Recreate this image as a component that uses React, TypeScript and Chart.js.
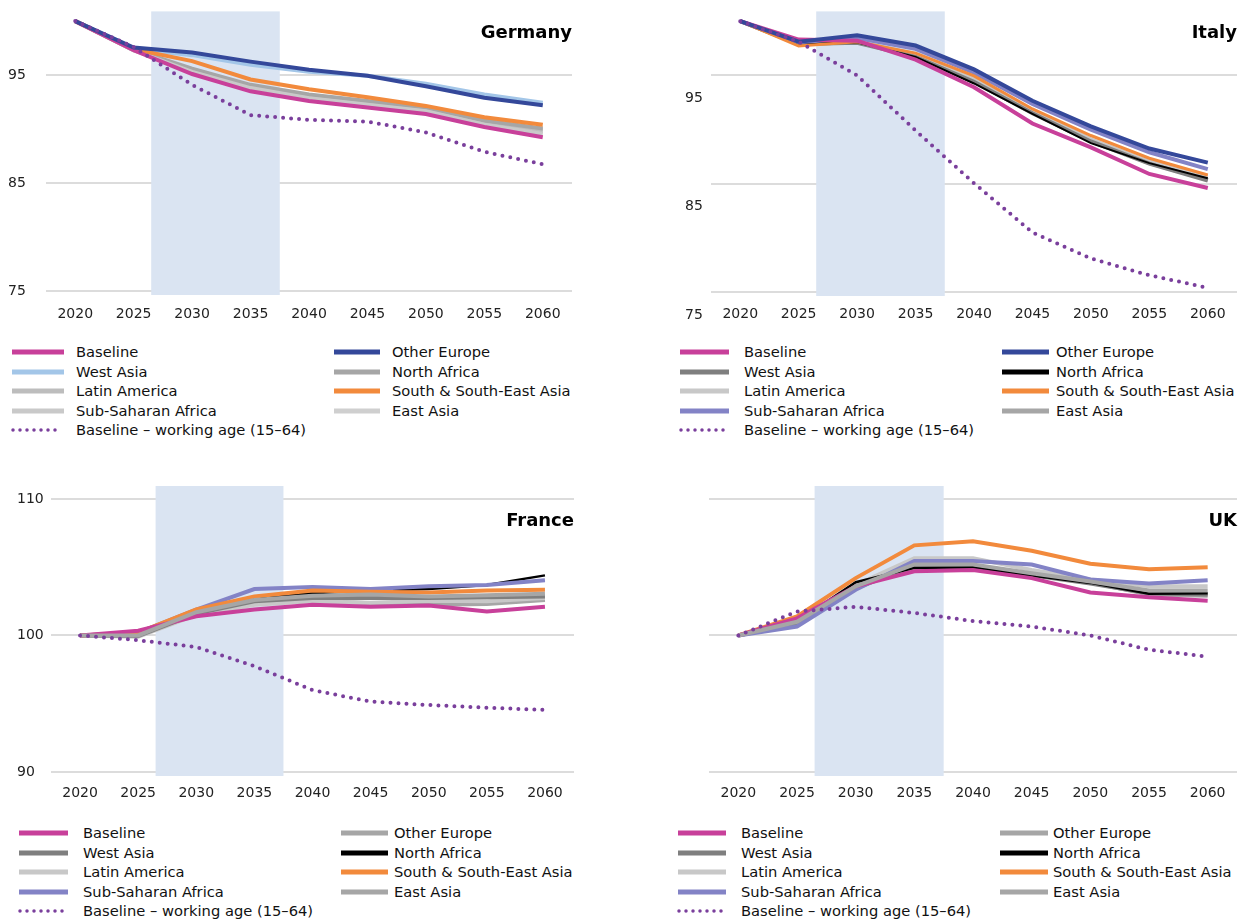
import { useEffect, useRef } from "react";
import { Chart, registerables } from "chart.js";

Chart.register(...registerables);

const years = ["2020", "2025", "2030", "2035", "2040", "2045", "2050", "2055", "2060"];

// Germany
const deBaseline = [100, 97.3, 95.1, 93.5, 92.6, 92.0, 91.4, 90.2, 89.25];
const deOtherEurope = [100, 97.55, 97.1, 96.25, 95.5, 94.95, 93.97, 92.9, 92.2];
const deWestAsia = [100, 97.45, 96.85, 95.95, 95.3, 94.95, 94.2, 93.2, 92.45];
const deNorthAfrica = [100, 97.35, 95.6, 94.1, 93.2, 92.6, 92.0, 90.8, 90.05];
const deLatinAmerica = [100, 97.3, 95.5, 94.0, 93.05, 92.45, 91.85, 90.6, 89.9];
const deSouthAsia = [100, 97.4, 96.3, 94.6, 93.7, 92.95, 92.15, 91.1, 90.4];
const deSubSaharan = [100, 97.3, 95.3, 93.8, 92.85, 92.25, 91.65, 90.4, 89.55];
const deEastAsia = [100, 97.35, 95.45, 93.95, 93.0, 92.4, 91.8, 90.55, 89.85];
const deWorking = [100, 97.6, 94.1, 91.3, 90.85, 90.7, 89.7, 87.9, 86.75];

// Italy
const itBaseline = [100, 98.3, 98.2, 96.45, 93.9, 90.55, 88.35, 85.9, 84.6];
const itOtherEurope = [100, 98.1, 98.7, 97.75, 95.55, 92.65, 90.3, 88.25, 86.95];
const itWestAsia = [100, 97.9, 98.0, 96.7, 94.4, 91.5, 88.9, 86.85, 85.3];
const itNorthAfrica = [100, 97.95, 98.05, 96.7, 94.25, 91.45, 88.75, 86.9, 85.5];
const itLatinAmerica = [100, 97.95, 98.1, 96.95, 94.7, 91.7, 89.1, 87.05, 85.65];
const itSouthAsia = [100, 97.7, 98.1, 97.05, 94.95, 91.9, 89.45, 87.35, 85.8];
const itSubSaharan = [100, 98.05, 98.45, 97.45, 95.25, 92.35, 90.0, 87.9, 86.35];
const itEastAsia = [100, 97.9, 98.05, 96.9, 94.65, 91.6, 89.0, 86.9, 85.35];
const itWorking = [100, 98.1, 95.0, 89.9, 85.05, 80.5, 78.1, 76.55, 75.4];

// France
const frBaseline = [100, 100.35, 101.4, 101.9, 102.25, 102.1, 102.2, 101.75, 102.1];
const frOtherEurope = [100, 100.0, 101.7, 102.6, 102.9, 103.0, 102.85, 102.95, 103.05];
const frWestAsia = [100, 99.95, 101.6, 102.5, 102.75, 102.75, 102.75, 102.8, 102.85];
const frNorthAfrica = [100, 100.1, 101.9, 102.75, 103.1, 103.3, 103.4, 103.7, 104.4];
const frLatinAmerica = [100, 99.9, 101.5, 102.25, 102.5, 102.4, 102.55, 102.5, 102.75];
const frSouthAsia = [100, 100.2, 101.9, 102.85, 103.3, 103.2, 103.15, 103.3, 103.35];
const frSubSaharan = [100, 100.2, 101.9, 103.4, 103.55, 103.4, 103.6, 103.7, 104.05];
const frEastAsia = [100, 99.95, 101.55, 102.35, 102.55, 102.35, 102.25, 102.3, 102.6];
const frWorking = [100, 99.65, 99.15, 97.75, 96.0, 95.15, 94.9, 94.7, 94.55];

// UK
const ukBaseline = [100, 101.25, 103.6, 104.7, 104.8, 104.2, 103.15, 102.8, 102.55];
const ukOtherEurope = [100, 101.0, 103.6, 105.2, 105.2, 104.55, 103.95, 103.3, 103.3];
const ukWestAsia = [100, 100.9, 103.5, 105.0, 105.0, 104.4, 103.8, 103.1, 103.0];
const ukNorthAfrica = [100, 101.0, 103.9, 104.95, 105.0, 104.4, 103.85, 103.05, 103.1];
const ukLatinAmerica = [100, 101.1, 103.7, 105.65, 105.65, 104.8, 104.1, 103.6, 103.6];
const ukSouthAsia = [100, 101.4, 104.2, 106.6, 106.9, 106.2, 105.25, 104.85, 105.0];
const ukSubSaharan = [100, 100.65, 103.35, 105.45, 105.45, 105.2, 104.1, 103.8, 104.05];
const ukEastAsia = [100, 100.95, 103.45, 105.1, 105.1, 104.5, 103.9, 103.0, 102.9];
const ukWorking = [100, 101.75, 102.1, 101.65, 101.05, 100.65, 100.0, 98.95, 98.45];

const seriesLabels = ["Baseline", "West Asia", "Latin America", "Sub-Saharan Africa", "Other Europe", "North Africa", "South & South-East Asia", "East Asia"];
const workingLabel = "Baseline – working age (15–64)";

const MAGENTA = "#c8409a";
const NAVY = "#34489a";
const ORANGE = "#f28a3c";
const PURPLE = "#8383c6";
const DOTS = "#7a3f9c";
const FONT = "'DejaVu Sans', Verdana, sans-serif";

type Series = { label: string; data: number[]; color: string; width?: number };

interface PanelProps {
  title: string;
  left: number;
  top: number;
  width: number;
  height: number;
  padLeft: number;
  yWidth: number;
  padTop: number;
  padRight: number;
  plotHeight: number;
  padTitle: number;
  min: number;
  max: number;
  ticks: number[];
  showLabels: boolean;
  labelOffset: number;
  tickPad: number;
  series: Series[];
  working: number[];
  legend: { x1: number; t1: number; x2: number; t2: number; y: number; w1: number; w2: number };
}

function Panel(p: PanelProps) {
  const ref = useRef<HTMLCanvasElement>(null);
  const inst = useRef<Chart | null>(null);

  useEffect(() => {
    if (!ref.current) return;
    if (inst.current) inst.current.destroy();

    const band = {
      id: "band",
      beforeDatasetsDraw(chart: any) {
        const { ctx, chartArea, scales } = chart;
        const x0 = scales.x.getPixelForValue(1.3);
        const x1 = scales.x.getPixelForValue(3.5);
        ctx.save();
        ctx.fillStyle = "#dae4f2";
        ctx.fillRect(x0, chartArea.top, x1 - x0, chartArea.bottom - chartArea.top);
        ctx.restore();
      },
      afterDraw(chart: any) {
        const { ctx, chartArea } = chart;
        ctx.save();
        ctx.font = `bold 18px ${FONT}`;
        ctx.fillStyle = "#000";
        ctx.textAlign = "right";
        ctx.textBaseline = "middle";
        ctx.fillText(p.title, chartArea.right, chartArea.top + p.padTitle);
        ctx.restore();
      },
    };

    const styled = p.series.map((s) => ({
      label: s.label,
      data: s.data,
      borderColor: s.color,
      backgroundColor: s.color,
      borderWidth: s.width ?? 4,
      pointRadius: 0,
      fill: false,
      tension: 0,
    }));
    // first dataset is drawn on top
    const stack = [4, 0, 6, 3, 5, 1, 2, 7];
    const datasets: any[] = [
      {
        label: workingLabel,
        data: p.working,
        borderColor: DOTS,
        borderWidth: 4,
        borderDash: [0, 8],
        borderCapStyle: "round",
        pointRadius: 0,
        fill: false,
      },
      ...stack.map((i) => styled[i]),
    ];

    inst.current = new Chart(ref.current, {
      type: "line",
      data: { labels: years, datasets },
      options: {
        animation: false,
        responsive: false,
        layout: { padding: { top: p.padTop, right: p.padRight, left: p.padLeft, bottom: 0 } },
        plugins: { legend: { display: false }, tooltip: { enabled: false } },
        scales: {
          x: {
            offset: true,
            grid: { display: false },
            border: { display: false },
            ticks: { font: { family: FONT, size: 14 }, color: "#222", padding: p.tickPad, maxRotation: 0 },
            afterFit(s: any) {
              s.height = p.height - p.padTop - p.plotHeight;
            },
          },
          y: {
            min: p.min,
            max: p.max,
            grid: { color: "#dcdcdc", lineWidth: 2, drawTicks: false },
            border: { display: false },
            afterBuildTicks(s: any) {
              s.ticks = p.ticks.map((v) => ({ value: v }));
            },
            ticks: {
              font: { family: FONT, size: 14 },
              color: "#222",
              crossAlign: "far",
              labelOffset: p.labelOffset,
              callback: (v: any) => (p.showLabels ? String(v) : ""),
            },
            afterFit(s: any) {
              s.width = p.yWidth;
            },
          },
        },
      },
      plugins: [band],
    });

    return () => {
      if (inst.current) inst.current.destroy();
      inst.current = null;
    };
  }, []);

  const L = p.legend;
  const row = (s: Series | null, i: number, x: number, t: number, w: number, key: string) => (
    <div key={key} style={{ position: "absolute", left: 0, top: L.y + i * 19.5 - 10, height: 20, width: 620 }}>
      <svg style={{ position: "absolute", left: x - p.left, top: 0 }} width={w + 4} height={20}>
        {s ? (
          <line x1={2} y1={10} x2={w + 2} y2={10} stroke={s.color} strokeWidth={5} />
        ) : (
          <line x1={3} y1={10} x2={w} y2={10} stroke={DOTS} strokeWidth={3.5} strokeDasharray="0 7" strokeLinecap="round" />
        )}
      </svg>
      <span style={{ position: "absolute", left: t - p.left, top: 1, fontFamily: FONT, fontSize: 14.7, color: "#111", whiteSpace: "nowrap" }}>
        {s ? s.label : workingLabel}
      </span>
    </div>
  );

  return (
    <div style={{ position: "absolute", left: p.left, top: p.top, width: p.width, height: 452 }}>
      <canvas ref={ref} width={p.width} height={p.height} style={{ width: p.width, height: p.height, display: "block" }} />
      <div style={{ position: "absolute", left: 0, top: -p.top, width: 620, height: 0 }}>
        {p.series.slice(0, 4).map((s, i) => row(s, i, L.x1, L.t1, L.w1, "a" + i))}
        {row(null, 4, L.x1, L.t1, L.w1, "dots")}
        {p.series.slice(4).map((s, i) => row(s, i, L.x2, L.t2, L.w2, "b" + i))}
      </div>
    </div>
  );
}

function build(colors: string[], data: number[][], widths?: (number | undefined)[]): Series[] {
  return seriesLabels.map((l, i) => ({ label: l, data: data[i], color: colors[i], width: widths ? widths[i] : undefined }));
}

export default function App() {
  useEffect(() => {
    document.body.style.margin = "0";
  }, []);

  const de = build(
    [MAGENTA, "#a3c6e8", "#bdbdbd", "#c9c9c9", NAVY, "#a6a6a6", ORANGE, "#cfcfcf"],
    [deBaseline, deWestAsia, deLatinAmerica, deSubSaharan, deOtherEurope, deNorthAfrica, deSouthAsia, deEastAsia]
  );
  const it = build(
    [MAGENTA, "#7f7f7f", "#c8c8c8", PURPLE, NAVY, "#000000", ORANGE, "#a6a6a6"],
    [itBaseline, itWestAsia, itLatinAmerica, itSubSaharan, itOtherEurope, itNorthAfrica, itSouthAsia, itEastAsia],
    [undefined, undefined, undefined, undefined, undefined, 2, 3, undefined]
  );
  const fr = build(
    [MAGENTA, "#7f7f7f", "#c8c8c8", PURPLE, "#a6a6a6", "#000000", ORANGE, "#a6a6a6"],
    [frBaseline, frWestAsia, frLatinAmerica, frSubSaharan, frOtherEurope, frNorthAfrica, frSouthAsia, frEastAsia],
    [undefined, undefined, undefined, undefined, undefined, 2.5, undefined, undefined]
  );
  const uk = build(
    [MAGENTA, "#7f7f7f", "#c8c8c8", PURPLE, "#a6a6a6", "#000000", ORANGE, "#a6a6a6"],
    [ukBaseline, ukWestAsia, ukLatinAmerica, ukSubSaharan, ukOtherEurope, ukNorthAfrica, ukSouthAsia, ukEastAsia],
    [undefined, undefined, undefined, undefined, undefined, 2.5, undefined, undefined]
  );

  return (
    <div style={{ position: "relative", width: 1249, height: 922, background: "#fff" }}>
      <Panel
        title="Germany" left={0} top={0} width={600} height={330} padLeft={8} yWidth={38} padTop={7} padRight={28} plotHeight={288}
        padTitle={22} min={74.64} max={100.9} ticks={[75, 85, 95]} showLabels labelOffset={0} tickPad={3}
        series={de} working={deWorking}
        legend={{ x1: 10, t1: 76, w1: 52, x2: 332, t2: 392, w2: 46, y: 352 }}
      />
      <Panel
        title="Italy" left={620} top={0} width={629} height={330} padLeft={65} yWidth={26} padTop={7} padRight={12} plotHeight={289}
        padTitle={22} min={74.64} max={100.9} ticks={[75, 85, 95]} showLabels labelOffset={23} tickPad={2}
        series={it} working={itWorking}
        legend={{ x1: 678, t1: 744, w1: 49, x2: 1000, t2: 1056, w2: 47, y: 352 }}
      />
      <Panel
        title="France" left={0} top={470} width={600} height={345} padLeft={17} yWidth={34} padTop={16} padRight={26} plotHeight={290}
        padTitle={35} min={89.7} max={110.95} ticks={[90, 100, 110]} showLabels labelOffset={0} tickPad={1}
        series={fr} working={frWorking}
        legend={{ x1: 17, t1: 83, w1: 49, x2: 339, t2: 394, w2: 47, y: 833 }}
      />
      <Panel
        title="UK" left={620} top={470} width={629} height={345} padLeft={0} yWidth={89} padTop={16} padRight={12} plotHeight={290}
        padTitle={35} min={89.7} max={110.95} ticks={[90, 100, 110]} showLabels={false} labelOffset={0} tickPad={1}
        series={uk} working={ukWorking}
        legend={{ x1: 676, t1: 741, w1: 48, x2: 998, t2: 1053, w2: 48, y: 833 }}
      />
    </div>
  );
}
